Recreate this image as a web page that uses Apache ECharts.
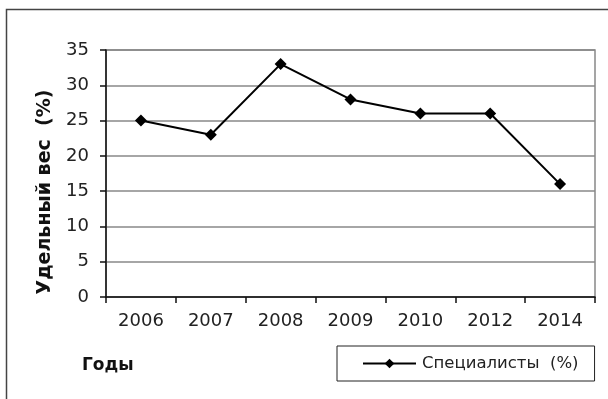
<!DOCTYPE html>
<html>
<head>
<meta charset="utf-8">
<script src="https://cdn.jsdelivr.net/npm/echarts@6/dist/echarts.min.js"></script>
<style>
  html, body { margin: 0; padding: 0; background: #fff; }
  #chart { width: 608px; height: 399px; }
</style>
</head>
<body>
<div id="chart"></div>
<script>
// Доля специалистов по годам
const years = ['2006', '2007', '2008', '2009', '2010', '2012', '2014'];
const specialists = [25, 23, 33, 28, 26, 26, 16];
const seriesName = 'Специалисты  (%)';
const yTitle = 'Удельный вес  (%)';
const xTitle = 'Годы';

const FONT = '"DejaVu Sans", "Liberation Sans", Arial, sans-serif';

const chart = echarts.init(document.getElementById('chart'), null, { renderer: 'canvas' });
chart.setOption({
  animation: false,
  backgroundColor: '#fff',
  textStyle: { fontFamily: FONT },
  grid: {
    left: 106, right: 13, top: 50, bottom: 102,
    show: true, borderColor: '#888', borderWidth: 1.5
  },
  graphic: [
    // frame around the whole figure
    { type: 'rect', shape: { x: 6.5, y: 9.5, width: 700, height: 500 },
      style: { fill: 'none', stroke: '#444', lineWidth: 1.5 }, silent: true },
    { type: 'text', left: 82, top: 357,
      style: { text: xTitle, font: 'bold 17px ' + FONT, fill: '#111' } },
    { type: 'text', x: 45, y: 192, rotation: Math.PI / 2,
      style: { text: yTitle, font: 'bold 19px ' + FONT, fill: '#111',
               align: 'center', verticalAlign: 'middle' } }
  ],
  legend: {
    left: 337, top: 346,
    data: [seriesName],
    itemWidth: 53, itemHeight: 12, itemGap: 0,
    padding: [9, 16, 9, 25],
    borderColor: '#222', borderWidth: 1,
    textStyle: { fontFamily: FONT, fontSize: 16.5, color: '#222', padding: [0, 0, 0, 1] }
  },
  xAxis: {
    type: 'category',
    data: years,
    boundaryGap: true,
    axisLine: { lineStyle: { color: '#111', width: 1.5 } },
    axisTick: { show: true, length: 6, alignWithLabel: false, lineStyle: { color: '#111', width: 1.5 } },
    axisLabel: { margin: 15, fontSize: 18, color: '#222', fontFamily: FONT },
    splitLine: { show: false }
  },
  yAxis: {
    type: 'value',
    min: 0, max: 35, interval: 5,
    axisLine: { show: true, lineStyle: { color: '#111', width: 1.5 } },
    axisTick: { show: true, length: 6, lineStyle: { color: '#111', width: 1.5 } },
    axisLabel: { margin: 17, fontSize: 18, color: '#222', fontFamily: FONT },
    splitLine: { show: true, lineStyle: { color: '#888', width: 1.5 } }
  },
  series: [{
    name: seriesName,
    type: 'line',
    data: specialists,
    symbol: 'diamond',
    symbolSize: 12,
    lineStyle: { color: '#000', width: 2 },
    itemStyle: { color: '#000' }
  }]
});
</script>
</body>
</html>
